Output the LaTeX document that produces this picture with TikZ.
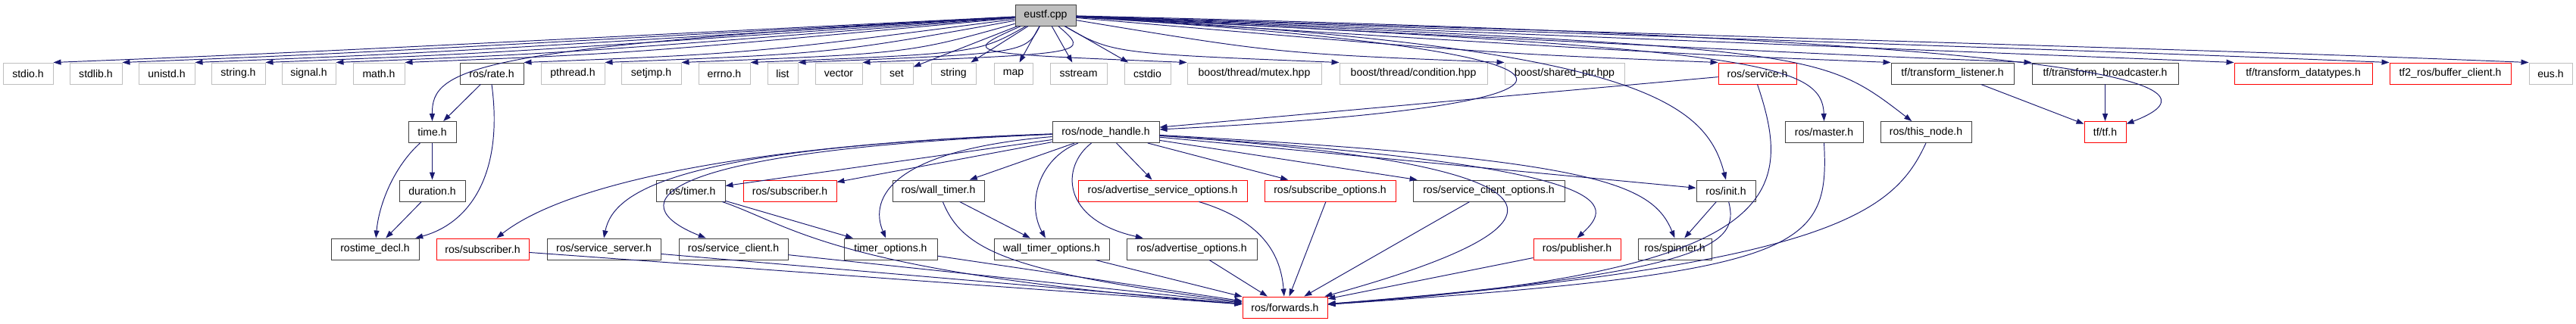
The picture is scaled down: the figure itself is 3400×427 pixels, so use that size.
\documentclass[tikz,border=0pt]{standalone}
\usepackage{fontspec}
\setmainfont{Liberation Sans}
\usetikzlibrary{arrows.meta,calc}

\definecolor{edgeblue}{HTML}{191970}
\definecolor{sysgray}{HTML}{BFBFBF}
\definecolor{fileblack}{HTML}{404040}

\tikzset{
  file/.style={draw=fileblack, line width=0.55pt, minimum height=0.56cm,
    inner xsep=2pt, inner ysep=0pt, font=\fontsize{8}{9.6}\selectfont},
  sysfile/.style={file, draw=sysgray},
  trunc/.style={file, draw=red},
  root/.style={file, fill=sysgray},
  dep/.style={draw=edgeblue, line width=0.55pt,
    -{Triangle[length=0.2cm,width=0.14cm]}},
}

\begin{document}
\begin{tikzpicture}[x=0.02cm, y=-0.02cm]
\useasboundingbox (0,0) rectangle (3400,427);

% the source file
\node[root, minimum width=1.6cm] (eustf) at (1380,20) {eustf.cpp};

% first row of includes
\node[sysfile, minimum width=1.32cm] (stdio) at (37,97) {stdio.h};
\node[sysfile, minimum width=1.38cm] (stdlib) at (126.5,97) {stdlib.h};
\node[sysfile, minimum width=1.48cm] (unistd) at (220,97) {unistd.h};
\node[sysfile, minimum width=1.42cm] (stringh) at (314.5,97) {string.h};
\node[sysfile, minimum width=1.42cm] (signal) at (407.5,97) {signal.h};
\node[sysfile, minimum width=1.36cm] (math) at (500,97) {math.h};
\node[file, minimum width=1.68cm] (rate) at (649,97) {ros/rate.h};
\node[sysfile, minimum width=1.68cm] (pthread) at (756,97) {pthread.h};
\node[sysfile, minimum width=1.58cm] (setjmp) at (859.5,97) {setjmp.h};
\node[sysfile, minimum width=1.36cm] (errno) at (956,97) {errno.h};
\node[sysfile, minimum width=0.8cm] (list) at (1033,97) {list};
\node[sysfile, minimum width=1.24cm] (vector) at (1107,97) {vector};
\node[sysfile, minimum width=0.86cm] (set) at (1183.5,97) {set};
\node[sysfile, minimum width=1.18cm] (string) at (1258.5,97) {string};
\node[sysfile, minimum width=1.02cm] (map) at (1337.5,97) {map};
\node[sysfile, minimum width=1.5cm] (sstream) at (1423.5,97) {sstream};
\node[sysfile, minimum width=1.22cm] (cstdio) at (1514.5,97) {cstdio};
\node[sysfile, minimum width=3.54cm] (mutex) at (1655.5,97) {boost/thread/mutex.hpp};
\node[sysfile, minimum width=3.9cm] (condition) at (1865.5,97) {boost/thread/condition.hpp};
\node[sysfile, minimum width=3.16cm] (sharedptr) at (2065,97) {boost/shared\_ptr.hpp};
\node[trunc, minimum width=2.06cm] (service) at (2319.5,97) {ros/service.h};
\node[file, minimum width=3.24cm] (listener) at (2577,97) {tf/transform\_listener.h};
\node[file, minimum width=3.86cm] (broadcaster) at (2778.5,97) {tf/transform\_broadcaster.h};
\node[trunc, minimum width=3.64cm] (datatypes) at (3040,97) {tf/transform\_datatypes.h};
\node[trunc, minimum width=3.2cm] (bufferclient) at (3234,97) {tf2\_ros/buffer\_client.h};
\node[sysfile, minimum width=1.14cm] (eus) at (3366.5,97) {eus.h};

% second row
\node[file, minimum width=1.26cm] (time) at (570.5,174.5) {time.h};
\node[file, minimum width=2.82cm] (nodehandle) at (1459.5,174.5) {ros/node\_handle.h};
\node[file, minimum width=2.06cm] (master) at (2407.5,174.5) {ros/master.h};
\node[file, minimum width=2.4cm] (thisnode) at (2542,174.5) {ros/this\_node.h};
\node[trunc, minimum width=1.1cm] (tf) at (2778.5,174.5) {tf/tf.h};

% third row
\node[file, minimum width=1.74cm] (duration) at (570.5,252) {duration.h};
\node[file, minimum width=1.82cm] (timer) at (911.5,252) {ros/timer.h};
\node[trunc, minimum width=2.46cm] (subscriberA) at (1042.5,252) {ros/subscriber.h};
\node[file, minimum width=2.42cm] (walltimer) at (1238.5,252) {ros/wall\_timer.h};
\node[trunc, minimum width=4.46cm] (advsrvopt) at (1534.5,252) {ros/advertise\_service\_options.h};
\node[trunc, minimum width=3.46cm] (subopt) at (1755.5,252) {ros/subscribe\_options.h};
\node[file, minimum width=4.0cm] (srvclientopt) at (1965,252) {ros/service\_client\_options.h};
\node[file, minimum width=1.56cm] (init) at (2278,252) {ros/init.h};

% fourth row
\node[file, minimum width=2.32cm] (rostimedecl) at (495,329) {rostime\_decl.h};
\node[trunc, minimum width=2.44cm] (subscriberB) at (637,329) {ros/subscriber.h};
\node[file, minimum width=3.0cm] (srvserver) at (797,329) {ros/service\_server.h};
\node[file, minimum width=2.88cm] (srvclient) at (968,329) {ros/service\_client.h};
\node[file, minimum width=2.46cm] (timeropt) at (1175.5,329) {timer\_options.h};
\node[file, minimum width=3.04cm] (walltimeropt) at (1388,329) {wall\_timer\_options.h};
\node[file, minimum width=3.44cm] (advopt) at (1573,329) {ros/advertise\_options.h};
\node[trunc, minimum width=2.3cm] (publisher) at (2081.5,329) {ros/publisher.h};
\node[file, minimum width=1.94cm] (spinner) at (2210.5,329) {ros/spinner.h};

% last row
\node[trunc, minimum width=2.24cm] (forwards) at (1696,406) {ros/forwards.h};

% includes of eustf.cpp
\foreach \t in {stdio,stdlib,unistd,stringh,signal,math,rate,pthread,setjmp,
  errno,list,vector}
  \draw[dep] (eustf) .. controls ($(\t.north east)+(300,-12)$) .. (\t.north east);
\foreach \t in {set,string,map,sstream,cstdio}
  \draw[dep] (eustf) -- (\t);
\foreach \t in {mutex,condition,sharedptr,service,listener,broadcaster,
  datatypes,bufferclient,eus}
  \draw[dep] (eustf) .. controls ($(\t.north west)+(-300,-12)$) .. (\t.north west);
\draw[dep] (eustf) .. controls (620,62) and (570,90) .. (time.north);
\draw[dep] (eustf) .. controls (2200,70) and (2150,140) .. (nodehandle);
\draw[dep] (eustf) .. controls (2150,60) and (2250,130) .. (init.north);
\draw[dep] (eustf) .. controls (2300,65) and (2405,80) .. (master.north);
\draw[dep] (eustf) .. controls (2400,65) .. (thisnode);
\draw[dep] (eustf) .. controls (2900,55) and (2920,120) .. (tf);

% time headers
\draw[dep] (rate) -- (time);
\draw[dep] (rate.south) .. controls (665,230) and (620,295) .. (rostimedecl);
\draw[dep] (time) -- (duration);
\draw[dep] (time) .. controls (520,220) and (500,270) .. (rostimedecl);
\draw[dep] (duration) -- (rostimedecl);

% tf headers
\draw[dep] (listener) -- (tf);
\draw[dep] (broadcaster) -- (tf);

% ros headers
\draw[dep] (service) -- (nodehandle);
\draw[dep] (service.south) .. controls (2370,260) and (2350,360) .. (forwards);
\draw[dep] (master.south) .. controls (2415,330) and (2380,360) .. (forwards);
\draw[dep] (thisnode.south) .. controls (2500,280) and (2420,350) .. (forwards);

\foreach \t in {timer,subscriberA,walltimer,advsrvopt,subopt,srvclientopt,init}
  \draw[dep] (nodehandle) -- (\t);
\draw[dep] (nodehandle) .. controls (1000,190) and (750,240) .. (subscriberB);
\draw[dep] (nodehandle) .. controls (900,195) and (810,250) .. (srvserver.north);
\draw[dep] (nodehandle) .. controls (850,200) and (820,270) .. (srvclient);
\draw[dep] (nodehandle) .. controls (1160,200) and (1150,270) .. (timeropt);
\draw[dep] (nodehandle) .. controls (1370,210) and (1355,270) .. (walltimeropt);
\draw[dep] (nodehandle) .. controls (1400,220) and (1400,290) .. (advopt);
\draw[dep] (nodehandle) .. controls (2150,220) and (2130,270) .. (publisher.north);
\draw[dep] (nodehandle) .. controls (2100,210) and (2180,240) .. (spinner.north);
\draw[dep] (nodehandle) .. controls (2120,220) and (2080,300) .. (forwards);

\draw[dep] (timer) -- (timeropt);
\draw[dep] (timer) .. controls (1050,300) and (1100,360) .. (forwards);
\draw[dep] (walltimer) -- (walltimeropt);
\draw[dep] (walltimer) .. controls (1270,330) and (1330,360) .. (forwards);
\draw[dep] (advsrvopt) .. controls (1660,290) and (1690,330) .. (forwards);
\draw[dep] (init) -- (spinner);
\draw[dep] (init) .. controls (2295,320) and (2270,360) .. (forwards);

\foreach \t in {subscriberB,srvserver,srvclient,timeropt,walltimeropt,advopt,
  subopt,srvclientopt,publisher}
  \draw[dep] (\t) -- (forwards);
\end{tikzpicture}
\end{document}
